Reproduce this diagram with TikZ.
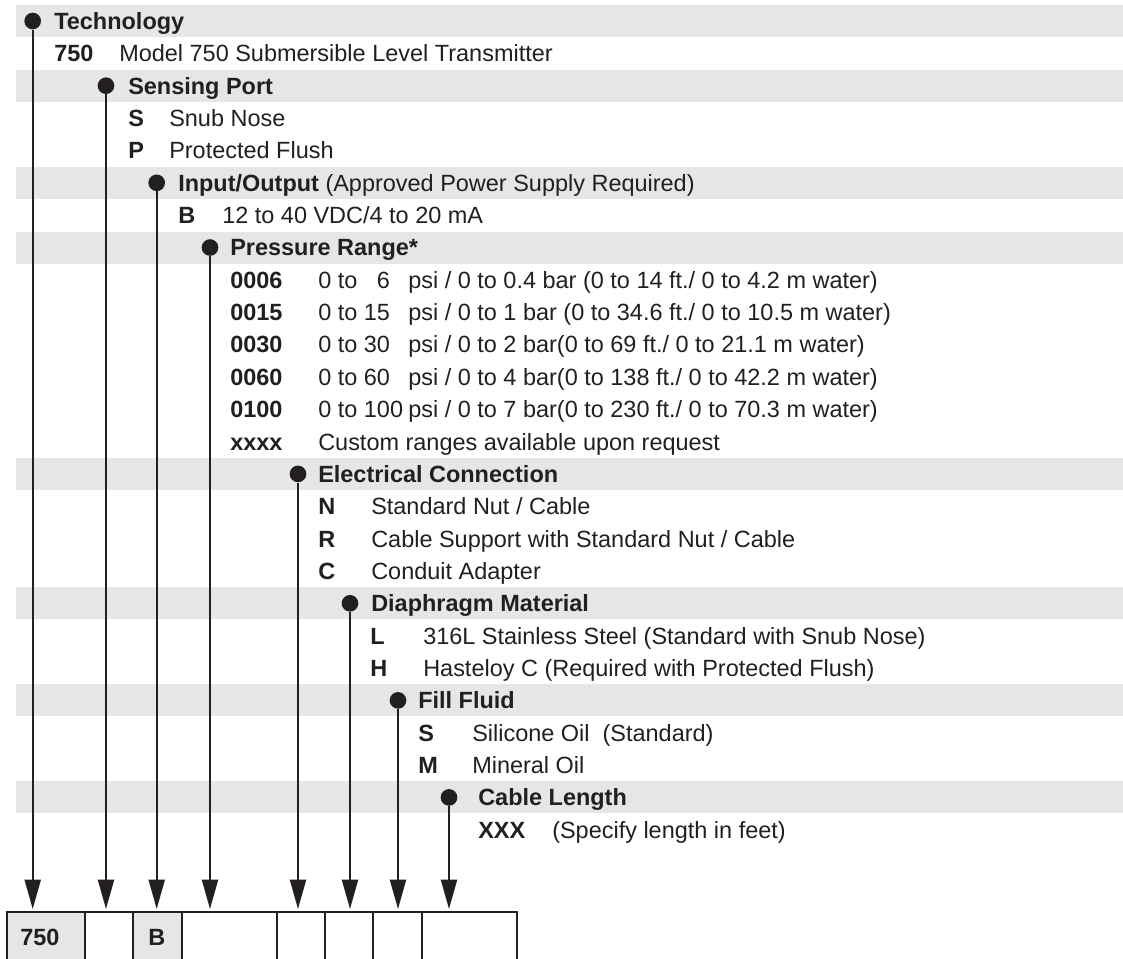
\documentclass[tikz,border=0pt]{standalone}
\usepackage{fontspec}
\setmainfont{Liberation Sans}
\usetikzlibrary{arrows.meta}
\definecolor{bandgray}{RGB}{229,230,232}
\definecolor{ink}{RGB}{35,31,32}

\begin{document}
\begin{tikzpicture}[x=0.75pt,y=-0.75pt,
  txt/.style={anchor=base west, inner sep=0pt, text=ink, font=\fontsize{17.6}{21}\selectfont},
  head/.style={txt, font=\fontsize{17.6}{21}\selectfont\bfseries},
  dot/.style={circle, fill=ink, inner sep=0pt, minimum size=12.5pt},
  lead/.style={draw=ink, line width=1.5pt, -{Triangle[length=22pt,width=12pt]}},
  cell/.style={draw=ink, line width=1.5pt}]
\clip (0,0) rectangle (1123,958);

% grey bands behind the group titles
\fill[bandgray] (16,5) rectangle (1123,37);
\fill[bandgray] (16,69.7) rectangle (1123,101.7);
\fill[bandgray] (16,166.8) rectangle (1123,198.8);
\fill[bandgray] (16,231.5) rectangle (1123,263.5);
\fill[bandgray] (16,457.9) rectangle (1123,489.9);
\fill[bandgray] (16,587.3) rectangle (1123,619.3);
\fill[bandgray] (16,684.4) rectangle (1123,716.4);
\fill[bandgray] (16,781.4) rectangle (1123,813.4);

% Technology
\node[dot] (dtech) at (32.7,21) {};
\node[head] (tech) at (54,29.4) {Technology};
\node[head] (k750) at (54,61.8) {750};
\node[txt] (v750) at (119,61.8) {Model 750 Submersible Level Transmitter};

% Sensing port
\node[dot] (dport) at (106,85.7) {};
\node[head] (port) at (128,94.1) {Sensing Port};
\node[head] (kS) at (128,126.5) {S};
\node[txt] (vS) at (169,126.5) {Snub Nose};
\node[head] (kP) at (128,158.8) {P};
\node[txt] (vP) at (169,158.8) {Protected Flush};

% Input/Output
\node[dot] (dio) at (156.7,182.8) {};
\node[txt] (io) at (178,191.2) {\textbf{Input/Output} (Approved Power Supply Required)};
\node[head] (kB) at (178,223.5) {B};
\node[txt] (vB) at (222,223.5) {12 to 40 VDC/4 to 20 mA};

% Pressure range
\node[dot] (dpr) at (210,247.5) {};
\node[head] (pr) at (230,255.9) {Pressure Range*};
\node[head] (k0006) at (230,288.2) {0006};
\node[txt] (r0006) at (318,288.2) {0 to \phantom{1}6};
\node[txt] (v0006) at (408,288.2) {psi / 0 to 0.4 bar (0 to 14 ft./ 0 to 4.2 m water)};
\node[head] (k0015) at (230,320.6) {0015};
\node[txt] (r0015) at (318,320.6) {0 to 15};
\node[txt] (v0015) at (408,320.6) {psi / 0 to 1 bar (0 to 34.6 ft./ 0 to 10.5 m water)};
\node[head] (k0030) at (230,352.9) {0030};
\node[txt] (r0030) at (318,352.9) {0 to 30};
\node[txt] (v0030) at (408,352.9) {psi / 0 to 2 bar(0 to 69 ft./ 0 to 21.1 m water)};
\node[head] (k0060) at (230,385.3) {0060};
\node[txt] (r0060) at (318,385.3) {0 to 60};
\node[txt] (v0060) at (408,385.3) {psi / 0 to 4 bar(0 to 138 ft./ 0 to 42.2 m water)};
\node[head] (k0100) at (230,417.6) {0100};
\node[txt] (r0100) at (318,417.6) {0 to 100};
\node[txt] (v0100) at (408,417.6) {psi / 0 to 7 bar(0 to 230 ft./ 0 to 70.3 m water)};
\node[head] (kxxxx) at (230,450) {xxxx};
\node[txt] (vxxxx) at (318,450) {Custom ranges available upon request};

% Electrical connection
\node[dot] (del) at (298,473.9) {};
\node[head] (el) at (318,482.3) {Electrical Connection};
\node[head] (kN) at (318,514.7) {N};
\node[txt] (vN) at (371,514.7) {Standard Nut / Cable};
\node[head] (kR) at (318,547) {R};
\node[txt] (vR) at (371,547) {Cable Support with Standard Nut / Cable};
\node[head] (kC) at (318,579.4) {C};
\node[txt] (vC) at (371,579.4) {Conduit Adapter};

% Diaphragm material
\node[dot] (ddi) at (350,603.3) {};
\node[head] (di) at (371,611.7) {Diaphragm Material};
\node[head] (kL) at (370,644.1) {L};
\node[txt] (vL) at (423,644.1) {316L Stainless Steel (Standard with Snub Nose)};
\node[head] (kH) at (370,676.4) {H};
\node[txt] (vH) at (423,676.4) {Hasteloy C (Required with Protected Flush)};

% Fill fluid
\node[dot] (dfi) at (398,700.4) {};
\node[head] (fi) at (418,708.8) {Fill Fluid};
\node[head] (kS2) at (418,741.1) {S};
\node[txt] (vS2) at (472,741.1) {Silicone Oil\ \ (Standard)};
\node[head] (kM) at (418,773.5) {M};
\node[txt] (vM) at (472,773.5) {Mineral Oil};

% Cable length
\node[dot] (dcl) at (449,797.4) {};
\node[head] (cl) at (478,805.8) {Cable Length};
\node[head] (kXXX) at (478,838.2) {XXX};
\node[txt] (vXXX) at (552,838.2) {(Specify length in feet)};

% order code boxes
\fill[bandgray] (7,912) rectangle (85,970);
\fill[bandgray] (133,912) rectangle (182,970);
\draw[cell] (7,970) -- (7,912) -- (517,912) -- (517,970);
\draw[cell] (85,912) -- (85,970);
\draw[cell] (133,912) -- (133,970);
\draw[cell] (182,912) -- (182,970);
\draw[cell] (277,912) -- (277,970);
\draw[cell] (325,912) -- (325,970);
\draw[cell] (373,912) -- (373,970);
\draw[cell] (422,912) -- (422,970);
\node[head] (b750) at (20,945) {750};
\node[head] (bB) at (148,945) {B};

% leaders down to the boxes
\coordinate (tip1) at (32.7,909);
\coordinate (tip2) at (106,909);
\coordinate (tip3) at (156.7,909);
\coordinate (tip4) at (210,909);
\coordinate (tip5) at (298,909);
\coordinate (tip6) at (350,909);
\coordinate (tip7) at (398,909);
\coordinate (tip8) at (449,909);
\draw[lead] (dtech) -- (tip1);
\draw[lead] (dport) -- (tip2);
\draw[lead] (dio) -- (tip3);
\draw[lead] (dpr) -- (tip4);
\draw[lead] (del) -- (tip5);
\draw[lead] (ddi) -- (tip6);
\draw[lead] (dfi) -- (tip7);
\draw[lead] (dcl) -- (tip8);
\end{tikzpicture}
\end{document}
